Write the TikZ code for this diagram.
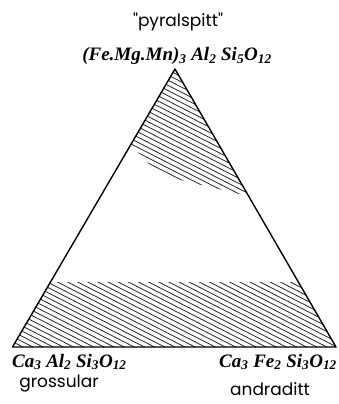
\documentclass[tikz,border=0pt]{standalone}
\usepackage{fontspec}
\newfontfamily\labfont{Poppins}
\newfontfamily\formfont{Liberation Serif}
\newcommand{\sbs}[1]{\textsubscript{#1}}
\begin{document}
\begin{tikzpicture}[x=1pt,y=-1pt,
  edge/.style={line width=1.4pt, line join=round},
  hatchline/.style={line width=0.8pt, black!85},
  namelab/.style={font=\labfont\fontsize{17}{20}\selectfont, inner sep=0pt},
  formlab/.style={font=\formfont\itshape\bfseries\fontsize{19}{22}\selectfont, inner sep=0pt}]
\useasboundingbox (0,0) rectangle (339,404);
\coordinate (T) at (175,69);
\coordinate (L) at (12.5,347);
\coordinate (R) at (336,347);
% lower band
\begin{scope}
\clip (L) -- (R) -- (299,282) -- (50,282) -- cycle;
\foreach \k in {-70,...,70}{
  \draw[hatchline] ({170-\k*4.6*0.454-400*0.891},{200+\k*4.6*0.891-400*0.454}) -- ({170-\k*4.6*0.454+400*0.891},{200+\k*4.6*0.891+400*0.454});
}
\end{scope}
% upper region
\begin{scope}
\clip (T) -- (131,145) -- (150,165) -- (172,178) -- (248,196) -- cycle;
\foreach \k in {-70,...,70}{
  \draw[hatchline] ({170-\k*4.6*0.454-400*0.891},{200+\k*4.6*0.891-400*0.454}) -- ({170-\k*4.6*0.454+400*0.891},{200+\k*4.6*0.891+400*0.454});
}
\end{scope}
\draw[edge] (T) -- (L) -- (R) -- cycle;
\node[namelab] (pyr) at (178,22) {"pyralspitt"};
\node[formlab] (ftop) at (177,56) {(Fe.Mg.Mn)\sbs{3} Al\sbs{2} Si\sbs{5}O\sbs{12}};
\node[formlab, anchor=west] (fl) at (12,362) {Ca\sbs{3} Al\sbs{2} Si\sbs{3}O\sbs{12}};
\node[formlab, anchor=east] (fr) at (337,362) {Ca\sbs{3} Fe\sbs{2} Si\sbs{3}O\sbs{12}};
\node[namelab] (gro) at (59,384) {grossular};
\node[namelab] (and) at (270,389) {andraditt};
\end{tikzpicture}
\end{document}
